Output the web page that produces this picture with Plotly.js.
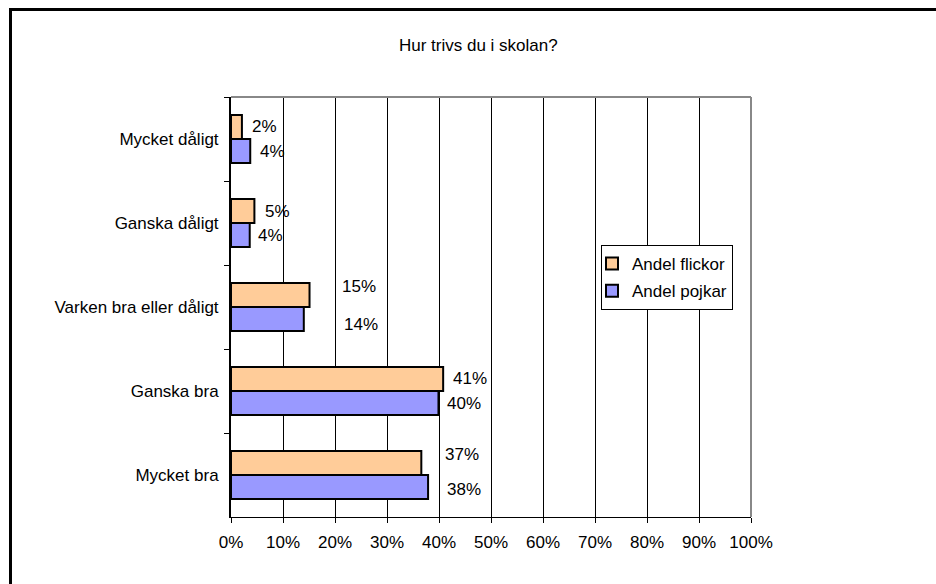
<!DOCTYPE html>
<html>
<head>
<meta charset="utf-8">
<script src="https://cdn.plot.ly/plotly-3.0.1.min.js"></script>
<style>
  html, body { margin: 0; padding: 0; background: #fff; overflow: hidden; }
  #wrap { position: relative; width: 936px; height: 584px; }
  #chart { position: absolute; left: 0; top: 0; width: 936px; height: 584px; }
  #frame { position: absolute; left: 9px; top: 8px; width: 960px; height: 600px;
           border-left: 3px solid #000; border-top: 3px solid #000;
           pointer-events: none; z-index: 10; }
</style>
</head>
<body>
<div id="wrap">
  <div id="chart"></div>
  <div id="frame"></div>
</div>
<script>
// ---- data (top-to-bottom category order) ----
const categories = ["Mycket dåligt", "Ganska dåligt", "Varken bra eller dåligt", "Ganska bra", "Mycket bra"];
const seriesNames = ["Andel flickor", "Andel pojkar"];
const flickor = [2.1, 4.5, 15.1, 40.8, 36.6];
const pojkar  = [3.7, 3.6, 14.0, 39.9, 37.9];
const xTickVals = [0, 10, 20, 30, 40, 50, 60, 70, 80, 90, 100];

// ---- styling ----
const colors = ["#FFCC99", "#9999FF"];
const FONT = "Liberation Sans, Arial, sans-serif";
const FS = 17;
// label offsets (px) from bar end / bar centre, as placed in the original
const labelDx = [[7.6, 8.3, 30.7, 7.7, 21.7], [7.3, 6.0, 38.4, 7.0, 17.0]];
const labelDy = [[-1, 0.7, -9, -0.7, -9], [0, 0, 5, 0, 2]];
const barHalf = 12;

const seriesVals = [flickor, pojkar];
const traces = seriesVals.map((vals, s) => ({
  type: "bar",
  orientation: "h",
  name: seriesNames[s],
  y: categories,
  x: vals,
  legendgroup: "g" + s,
  marker: { color: colors[s], line: { color: "#000", width: 2 } },
  hoverinfo: "x+y"
}));

const annotations = [];
seriesVals.forEach((vals, s) => {
  vals.forEach((v, i) => {
    const centreShift = s === 0 ? barHalf : -barHalf;
    annotations.push({
      x: v, y: categories[i], xref: "x", yref: "y",
      text: Math.round(v) + "%",
      showarrow: false, xanchor: "left", yanchor: "middle",
      xshift: labelDx[s][i], yshift: centreShift - labelDy[s][i],
      font: { family: FONT, size: FS, color: "#000" }
    });
  });
});

const layout = {
  width: 936, height: 584,
  margin: { l: 231, r: 185, t: 97, b: 67, pad: 0 },
  paper_bgcolor: "#fff", plot_bgcolor: "#fff",
  font: { family: FONT, size: FS, color: "#000" },
  title: { text: "Hur trivs du i skolan?", xref: "container", x: 0.511, xanchor: "center",
           y: 1 - 45 / 584, yanchor: "middle", font: { family: FONT, size: FS, color: "#000" } },
  barmode: "group",
  bargap: 0.43, bargroupgap: 0,
  showlegend: true,
  legend: { x: (601 - 231) / 520, y: (517 - 245) / 420, xanchor: "left", yanchor: "top",
            bgcolor: "#fff", bordercolor: "#000", borderwidth: 1,
            tracegroupgap: 2, itemwidth: 30, indentation: -10,
            font: { family: FONT, size: FS, color: "#000" } },
  xaxis: {
    range: [0, 100], tickvals: xTickVals, ticktext: xTickVals.map(v => v + "%"),
    showgrid: true, gridcolor: "#000", gridwidth: 1,
    zeroline: false, showline: true, linecolor: "#000", linewidth: 1,
    ticks: "outside", ticklen: 5, tickcolor: "#000", tickwidth: 1,
    ticklabelstandoff: 5, fixedrange: true
  },
  yaxis: {
    type: "category", autorange: "reversed",
    showgrid: false, zeroline: false, showline: true, linecolor: "#000", linewidth: 2,
    ticks: "outside", ticklen: 5, tickcolor: "#000", tickwidth: 1, tickson: "boundaries",
    ticklabelstandoff: 7, fixedrange: true
  },
  annotations: annotations,
  shapes: [
    { type: "line", xref: "paper", yref: "paper", x0: 0, x1: 1, y0: 1, y1: 1,
      line: { color: "#888", width: 2 }, layer: "above" },
    { type: "line", xref: "paper", yref: "paper", x0: 1, x1: 1, y0: 0, y1: 1,
      line: { color: "#888", width: 2 }, layer: "above" }
  ]
};

Plotly.newPlot("chart", traces, layout, { displayModeBar: false, staticPlot: true });
</script>
</body>
</html>
